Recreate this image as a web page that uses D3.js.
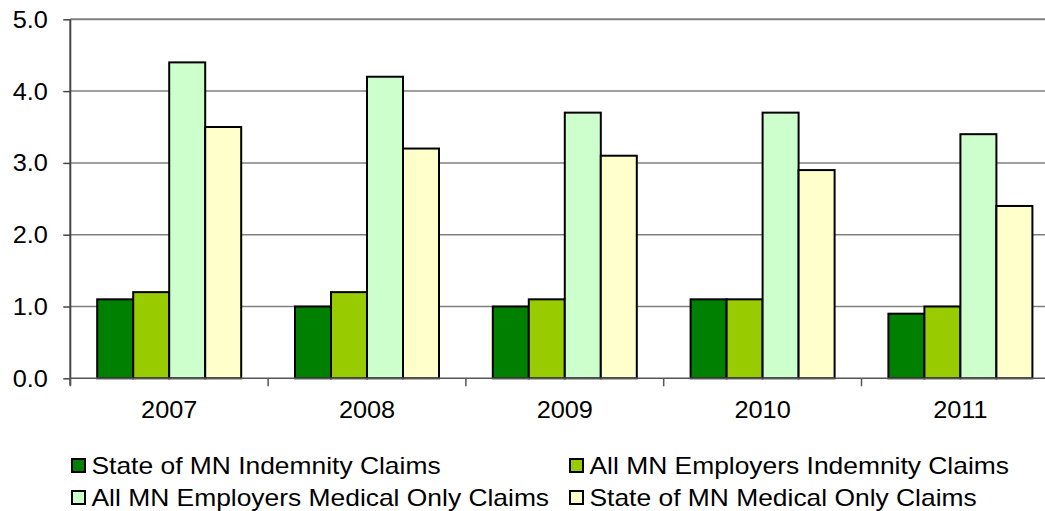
<!DOCTYPE html>
<html>
<head>
<meta charset="utf-8">
<script src="https://cdn.jsdelivr.net/npm/d3@7"></script>
<style>
  html, body { margin: 0; padding: 0; background: #fff; overflow: hidden; }
  svg { display: block; }
  text { font-family: "Liberation Sans", Arial, sans-serif; fill: #000; }
</style>
</head>
<body>
<svg id="chart" width="1045" height="511"></svg>
<script>
const years = ["2007", "2008", "2009", "2010", "2011"];
const seriesNames = [
  "State of MN Indemnity Claims",
  "All MN Employers Indemnity Claims",
  "All MN Employers Medical Only Claims",
  "State of MN Medical Only Claims"
];
const stateIndemnity = [1.1, 1.0, 1.0, 1.1, 0.9];
const allIndemnity   = [1.2, 1.2, 1.1, 1.1, 1.0];
const allMedical     = [4.4, 4.2, 3.7, 3.7, 3.4];
const stateMedical   = [3.5, 3.2, 3.1, 2.9, 2.4];
const yTicks = [0, 1, 2, 3, 4, 5];
const colors = ["#008000", "#99CC00", "#CCFFCC", "#FFFFCC"];

const seriesValues = [stateIndemnity, allIndemnity, allMedical, stateMedical];

const svg = d3.select("#chart");
const pLeft = 70.3, pRight = 1059.3, pTop = 19.3, pBottom = 378.3;
const FONT = "'Liberation Sans', Arial, sans-serif";

const y = d3.scaleLinear().domain([0, 5]).range([pBottom, pTop]);
const pIn = 0.272;
const x0 = d3.scaleBand().domain(years).range([pLeft, pRight]).paddingInner(pIn).paddingOuter(pIn / 2);
const x1 = d3.scaleBand().domain(seriesNames).range([0, x0.bandwidth()]);
const step = x0.step();

// gridlines
svg.append("g").selectAll("line").data(yTicks.filter(d => d > 0)).join("line")
  .attr("x1", pLeft).attr("x2", pRight)
  .attr("y1", d => y(d)).attr("y2", d => y(d))
  .attr("stroke", "#808080").attr("stroke-width", d => d === 5 ? 2 : 1.5);

// y axis
const yAxis = d3.axisLeft(y).tickValues(yTicks).tickFormat(d3.format(".1f")).tickSize(7).tickPadding(0);
const gy = svg.append("g").attr("transform", `translate(${pLeft},0)`).call(yAxis);
gy.select(".domain").attr("stroke", "#444").attr("stroke-width", 2).attr("d", `M0,${pTop}V${pBottom + 7}`);
gy.selectAll(".tick line").attr("stroke", "#444").attr("stroke-width", 1.5);
gy.selectAll(".tick text").remove();
gy.selectAll(".tick").append("text")
  .attr("text-anchor", "end")
  .attr("transform", "translate(-22.5,8) scale(1.1,1)")
  .style("font-size", "23px")
  .style("font-family", FONT)
  .attr("fill", "#000")
  .text(d => d3.format(".1f")(d));

// bars
const groups = svg.append("g").selectAll("g").data(years).join("g")
  .attr("transform", d => `translate(${x0(d)},0)`);
groups.selectAll("rect")
  .data((d, i) => seriesNames.map((s, j) => ({ s, j, v: seriesValues[j][i] })))
  .join("rect")
  .attr("x", d => x1(d.s))
  .attr("width", x1.bandwidth())
  .attr("y", d => y(d.v))
  .attr("height", d => y(0) - y(d.v))
  .attr("fill", d => colors[d.j])
  .attr("stroke", "#000")
  .attr("stroke-width", 2);

// x axis
svg.append("line").attr("x1", pLeft).attr("x2", pRight).attr("y1", pBottom).attr("y2", pBottom)
  .attr("stroke", "#555").attr("stroke-width", 1.5);
const boundaries = d3.range(years.length + 1).map(i => pLeft + i * step);
svg.append("g").selectAll("line").data(boundaries).join("line")
  .attr("x1", d => d).attr("x2", d => d).attr("y1", pBottom).attr("y2", pBottom + 8)
  .attr("stroke", "#555").attr("stroke-width", 1.5);
svg.append("g").selectAll("text").data(years).join("text")
  .attr("text-anchor", "middle")
  .attr("transform", d => `translate(${x0(d) + x0.bandwidth() / 2},418) scale(1.1,1)`)
  .style("font-size", "23px")
  .style("font-family", FONT)
  .text(d => d);

// legend
const legendPos = [
  { x: 71, y: 466 }, { x: 569, y: 466 },
  { x: 71, y: 498 }, { x: 569, y: 498 }
];
const lg = svg.append("g").selectAll("g").data(seriesNames).join("g")
  .attr("transform", (d, i) => `translate(${legendPos[i].x},${legendPos[i].y})`);
lg.append("rect").attr("x", 1).attr("y", -7).attr("width", 13).attr("height", 13)
  .attr("fill", (d, i) => colors[i]).attr("stroke", "#000").attr("stroke-width", 2);
lg.append("text")
  .attr("transform", "translate(20.5,8) scale(1.148,1)")
  .style("font-size", "23px")
  .style("font-family", FONT)
  .text(d => d);
</script>
</body>
</html>
